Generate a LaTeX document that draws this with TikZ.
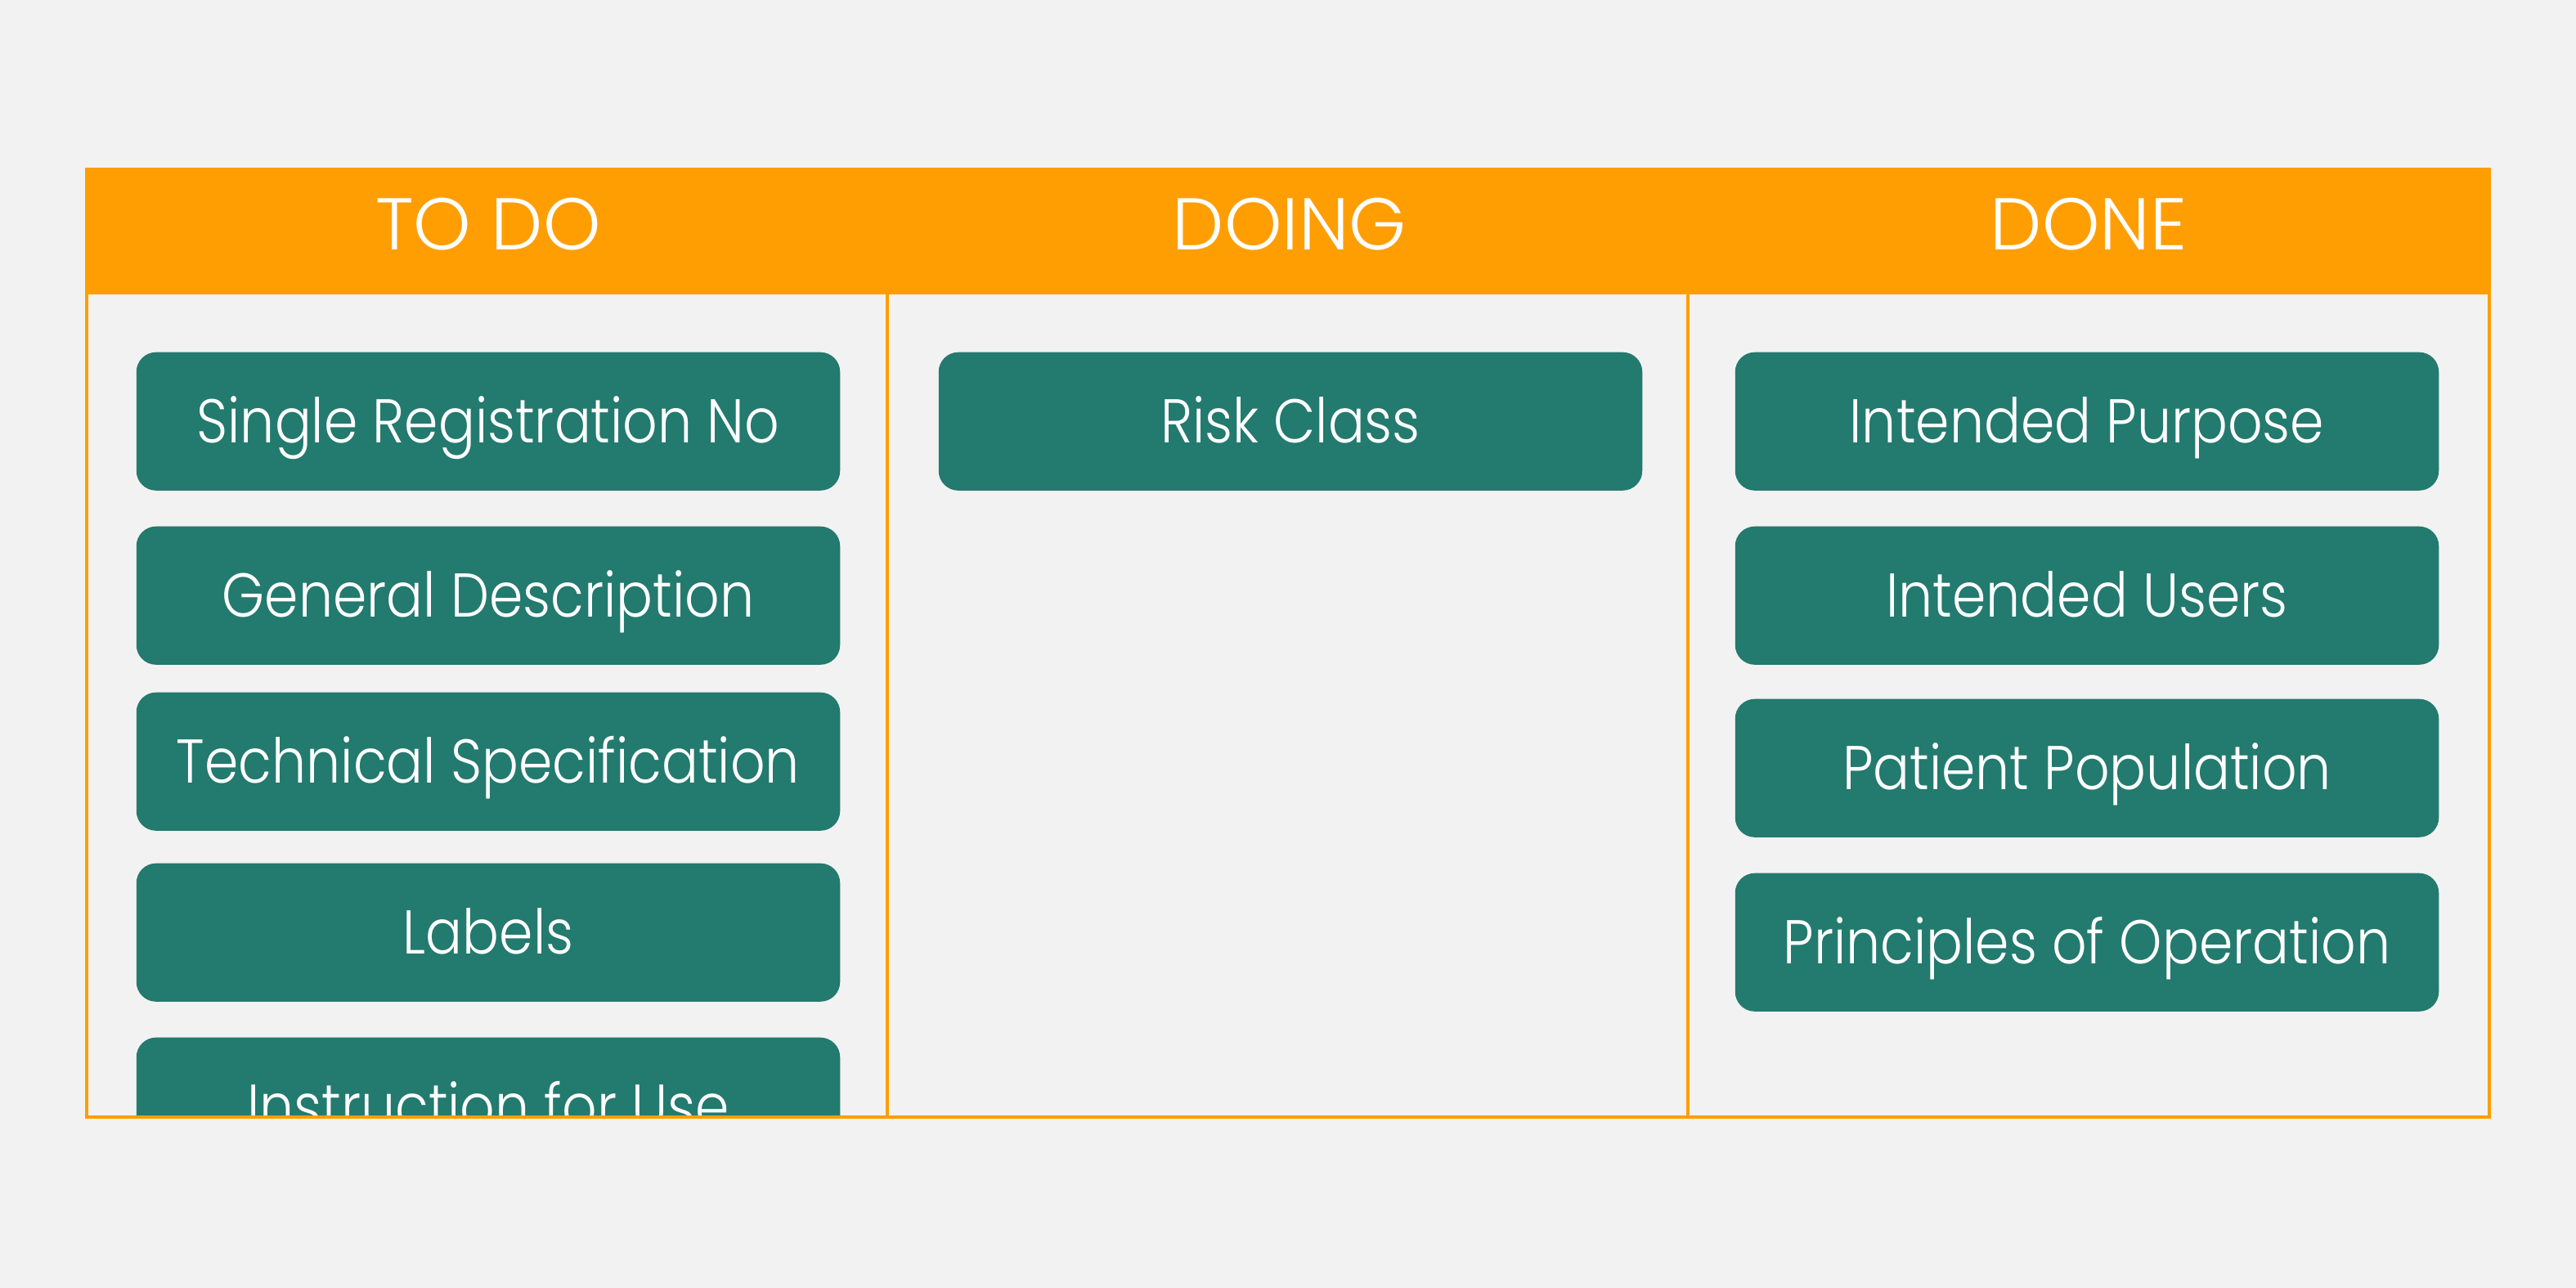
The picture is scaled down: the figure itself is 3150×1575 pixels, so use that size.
\documentclass[tikz,border=0pt]{standalone}
\usepackage{fontspec}
\setmainfont{Poppins Light}
\newfontfamily\cardfont{Poppins Light}[FakeStretch=0.88]
\definecolor{bg}{HTML}{F2F2F2}
\definecolor{orng}{HTML}{FF9E03}
\definecolor{teal}{HTML}{237A6E}
\begin{document}
\begin{tikzpicture}[x=0.01cm,y=-0.01cm,
  card/.style={fill=teal,rounded corners=0.24cm,minimum width=8.6cm,minimum height=1.69cm,inner sep=0pt,anchor=north},
  cardtext/.style={text=white,font=\cardfont\fontsize{21.5}{25}\selectfont,anchor=base},
  headtext/.style={text=white,font=\fontsize{25.5}{30}\selectfont,anchor=base},
  frameline/.style={draw=orng,line width=1pt}]
\useasboundingbox (0,0) rectangle (3150,1575);
\fill[bg] (0,0) rectangle (3150,1575);
% header
\fill[orng] (106,207) rectangle (3044,360);
\node[headtext] (h1) at (597,305) {TO DO};
\node[headtext] (h2) at (1577,305) {DOING};
\node[headtext] (h3) at (2554,305) {DONE};
% cards, clipped to frame interior
\begin{scope}
\clip (106,360) rectangle (3044,1366);
\node[card] (c1) at (597,430) {};
\node[card] (c2) at (597,643) {};
\node[card] (c3) at (597,846) {};
\node[card] (c4) at (597,1055) {};
\node[card] (c5) at (597,1268) {};
\node[card] (d1) at (1578,430) {};
\node[card] (e1) at (2552,430) {};
\node[card] (e2) at (2552,643) {};
\node[card] (e3) at (2552,854) {};
\node[card] (e4) at (2552,1067) {};
\node[cardtext] (t1) at ([yshift=-0.26cm]c1.center) {Single Registration No};
\node[cardtext] (t2) at ([yshift=-0.26cm]c2.center) {General Description};
\node[cardtext] (t3) at ([yshift=-0.26cm]c3.center) {Technical Specification};
\node[cardtext] (t4) at ([yshift=-0.26cm]c4.center) {Labels};
\node[cardtext] (t5) at ([yshift=-0.26cm]c5.center) {Instruction for Use};
\node[cardtext] (u1) at ([yshift=-0.26cm]d1.center) {Risk Class};
\node[cardtext] (v1) at ([yshift=-0.26cm]e1.center) {Intended Purpose};
\node[cardtext] (v2) at ([yshift=-0.26cm]e2.center) {Intended Users};
\node[cardtext] (v3) at ([yshift=-0.26cm]e3.center) {Patient Population};
\node[cardtext] (v4) at ([yshift=-0.26cm]e4.center) {Principles of Operation};
\end{scope}
% frame
\draw[frameline] (106,207) rectangle (3044,1366);
\draw[frameline,line width=1.2pt] (1085,360) -- (1085,1366);
\draw[frameline,line width=1.2pt] (2064,360) -- (2064,1366);
\end{tikzpicture}
\end{document}
